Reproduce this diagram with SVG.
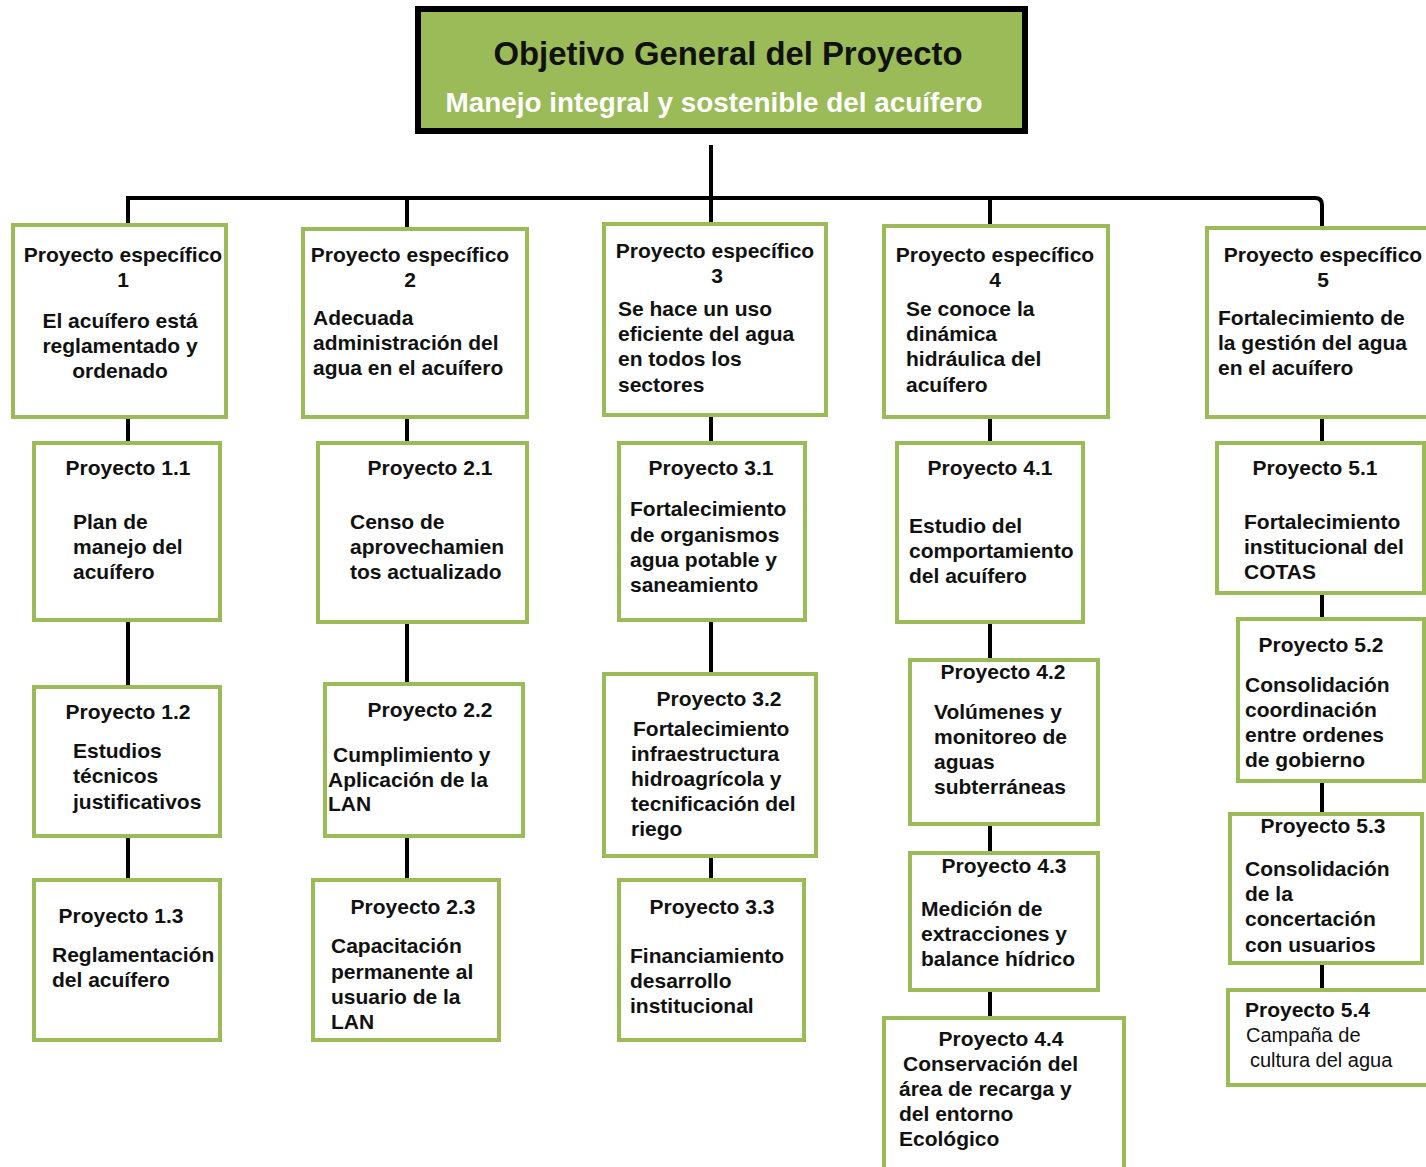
<svg xmlns="http://www.w3.org/2000/svg" width="1426" height="1167" viewBox="0 0 1426 1167">
<style>
.box{fill:#fff;stroke:#9BBB59;stroke-width:4}
.t{font-family:"Liberation Sans",Arial,sans-serif;font-weight:bold;font-size:21px;fill:#111}
.c{text-anchor:middle}
.r{font-weight:normal;font-size:20px}
.con{stroke:#000;stroke-width:4;fill:none}
</style>
<rect width="1426" height="1167" fill="#fff"/>
<g id="connectors" class="con">
<path d="M711,145 V198"/>
<path d="M128,225 V198 H1315 Q1322,198 1322,205 V228"/>
<path d="M407,198 V229 M711,198 V224 M990,198 V226"/>
<path d="M128,417 V443 M128,620 V687 M128,836 V880"/>
<path d="M407,417 V443 M407,622 V684 M407,836 V880"/>
<path d="M711,415 V443 M711,620 V674 M711,856 V880"/>
<path d="M990,417 V443 M990,622 V660 M990,824 V853 M990,990 V1018"/>
<path d="M1322,417 V443 M1322,593 V619 M1322,781 V814 M1322,963 V990"/>
</g>
<g id="objetivo">
<rect x="418" y="9" width="607" height="122" fill="#000" opacity="0.25" transform="translate(3,3)"/>
<rect x="418" y="9" width="607" height="122" fill="#9BBB59" stroke="#000" stroke-width="6"/>
<text x="728" y="65" class="t c" style="font-size:34px" textLength="469" lengthAdjust="spacingAndGlyphs">Objetivo General del Proyecto</text>
<text x="714" y="112" class="t c" style="font-size:28px;fill:#fff" textLength="537" lengthAdjust="spacingAndGlyphs">Manejo integral y sostenible del acuífero</text>
</g>
<g id="pe1"><rect class="box" x="13" y="225" width="213" height="192"/>
<text class="t c" x="123" y="262">Proyecto específico</text><text class="t c" x="123" y="287">1</text>
<text class="t c" x="120" y="328">El acuífero está</text><text class="t c" x="120" y="353">reglamentado y</text><text class="t c" x="120" y="378">ordenado</text></g>
<g id="pe2"><rect class="box" x="303" y="229" width="224" height="188"/>
<text class="t c" x="410" y="262">Proyecto específico</text><text class="t c" x="410" y="287">2</text>
<text class="t" x="313" y="325">Adecuada</text><text class="t" x="313" y="350">administración del</text><text class="t" x="313" y="375">agua en el acuífero</text></g>
<g id="pe3"><rect class="box" x="604" y="224" width="222" height="191"/>
<text class="t c" x="715" y="258">Proyecto específico</text><text class="t c" x="717" y="283">3</text>
<text class="t" x="618" y="316">Se hace un uso</text><text class="t" x="618" y="341">eficiente del agua</text><text class="t" x="618" y="366">en todos los</text><text class="t" x="618" y="392">sectores</text></g>
<g id="pe4"><rect class="box" x="884" y="226" width="224" height="191"/>
<text class="t c" x="995" y="262">Proyecto específico</text><text class="t c" x="995" y="287">4</text>
<text class="t" x="906" y="316">Se conoce la</text><text class="t" x="906" y="341">dinámica</text><text class="t" x="906" y="366">hidráulica del</text><text class="t" x="906" y="392">acuífero</text></g>
<g id="pe5"><rect class="box" x="1207" y="228" width="225" height="189"/>
<text class="t c" x="1323" y="262">Proyecto específico</text><text class="t c" x="1323" y="287">5</text>
<text class="t" x="1218" y="325">Fortalecimiento de</text><text class="t" x="1218" y="350">la gestión del agua</text><text class="t" x="1218" y="375">en el acuífero</text></g>
<g id="p11"><rect class="box" x="34" y="443" width="186" height="177"/>
<text class="t c" x="128" y="475">Proyecto 1.1</text>
<text class="t" x="73" y="529">Plan de</text><text class="t" x="73" y="554">manejo del</text><text class="t" x="73" y="579">acuífero</text></g>
<g id="p21"><rect class="box" x="318" y="443" width="209" height="179"/>
<text class="t c" x="430" y="475">Proyecto 2.1</text>
<text class="t" x="350" y="529">Censo de</text><text class="t" x="350" y="554">aprovechamien</text><text class="t" x="350" y="579">tos actualizado</text></g>
<g id="p31"><rect class="box" x="619" y="443" width="186" height="177"/>
<text class="t c" x="711" y="475">Proyecto 3.1</text>
<text class="t" x="630" y="516">Fortalecimiento</text><text class="t" x="630" y="542">de organismos</text><text class="t" x="630" y="567">agua potable y</text><text class="t" x="630" y="592">saneamiento</text></g>
<g id="p41"><rect class="box" x="897" y="443" width="186" height="179"/>
<text class="t c" x="990" y="475">Proyecto 4.1</text>
<text class="t" x="909" y="533">Estudio del</text><text class="t" x="909" y="558">comportamiento</text><text class="t" x="909" y="583">del acuífero</text></g>
<g id="p51"><rect class="box" x="1217" y="443" width="207" height="150"/>
<text class="t c" x="1315" y="475">Proyecto 5.1</text>
<text class="t" x="1244" y="529">Fortalecimiento</text><text class="t" x="1244" y="554">institucional del</text><text class="t" x="1244" y="579">COTAS</text></g>
<g id="p12"><rect class="box" x="34" y="687" width="186" height="149"/>
<text class="t c" x="128" y="719">Proyecto 1.2</text>
<text class="t" x="73" y="758">Estudios</text><text class="t" x="73" y="783">técnicos</text><text class="t" x="73" y="809">justificativos</text></g>
<g id="p22"><rect class="box" x="325" y="684" width="198" height="152"/>
<text class="t c" x="430" y="717">Proyecto 2.2</text>
<text class="t" x="333" y="762">Cumplimiento y</text><text class="t" x="328" y="787">Aplicación de la</text><text class="t" x="328" y="811">LAN</text></g>
<g id="p32"><rect class="box" x="604" y="674" width="212" height="182"/>
<text class="t c" x="719" y="706">Proyecto 3.2</text>
<text class="t" x="633" y="736">Fortalecimiento</text><text class="t" x="631" y="761">infraestructura</text><text class="t" x="631" y="786">hidroagrícola  y</text><text class="t" x="631" y="811">tecnificación del</text><text class="t" x="631" y="836">riego</text></g>
<g id="p42"><rect class="box" x="910" y="660" width="188" height="164"/>
<text class="t c" x="1003" y="679">Proyecto 4.2</text>
<text class="t" x="934" y="719">Volúmenes y</text><text class="t" x="934" y="744">monitoreo de</text><text class="t" x="934" y="769">aguas</text><text class="t" x="934" y="794">subterráneas</text></g>
<g id="p52"><rect class="box" x="1238" y="619" width="186" height="162"/>
<text class="t c" x="1321" y="652">Proyecto 5.2</text>
<text class="t" x="1245" y="692">Consolidación</text><text class="t" x="1245" y="717">coordinación</text><text class="t" x="1245" y="742">entre ordenes</text><text class="t" x="1245" y="767">de gobierno</text></g>
<g id="p13"><rect class="box" x="34" y="880" width="186" height="160"/>
<text class="t c" x="121" y="923">Proyecto 1.3</text>
<text class="t" x="52" y="962">Reglamentación</text><text class="t" x="52" y="987">del acuífero</text></g>
<g id="p23"><rect class="box" x="313" y="880" width="186" height="160"/>
<text class="t c" x="413" y="914">Proyecto 2.3</text>
<text class="t" x="331" y="953">Capacitación</text><text class="t" x="331" y="979">permanente al</text><text class="t" x="331" y="1004">usuario de la</text><text class="t" x="331" y="1029">LAN</text></g>
<g id="p33"><rect class="box" x="619" y="880" width="185" height="160"/>
<text class="t c" x="712" y="914">Proyecto 3.3</text>
<text class="t" x="630" y="963">Financiamiento</text><text class="t" x="630" y="988">desarrollo</text><text class="t" x="630" y="1013">institucional</text></g>
<g id="p43"><rect class="box" x="910" y="853" width="188" height="137"/>
<text class="t c" x="1004" y="873">Proyecto 4.3</text>
<text class="t" x="921" y="916">Medición de</text><text class="t" x="921" y="941">extracciones y</text><text class="t" x="921" y="966">balance hídrico</text></g>
<g id="p44"><rect class="box" x="884" y="1018" width="240" height="160"/>
<text class="t c" x="1001" y="1046">Proyecto 4.4</text>
<text class="t" x="903" y="1071">Conservación del</text><text class="t" x="899" y="1096">área de recarga y</text><text class="t" x="899" y="1121">del entorno</text><text class="t" x="899" y="1146">Ecológico</text></g>
<g id="p53"><rect class="box" x="1230" y="814" width="192" height="149"/>
<text class="t c" x="1323" y="833">Proyecto 5.3</text>
<text class="t" x="1245" y="876">Consolidación</text><text class="t" x="1245" y="901">de la</text><text class="t" x="1245" y="926">concertación</text><text class="t" x="1245" y="952">con usuarios</text></g>
<g id="p54"><rect class="box" x="1228" y="990" width="202" height="95"/>
<text class="t" x="1245" y="1017">Proyecto 5.4</text>
<text class="t r" x="1246" y="1042">Campaña de</text><text class="t r" x="1250" y="1067">cultura del agua</text></g>
</svg>
